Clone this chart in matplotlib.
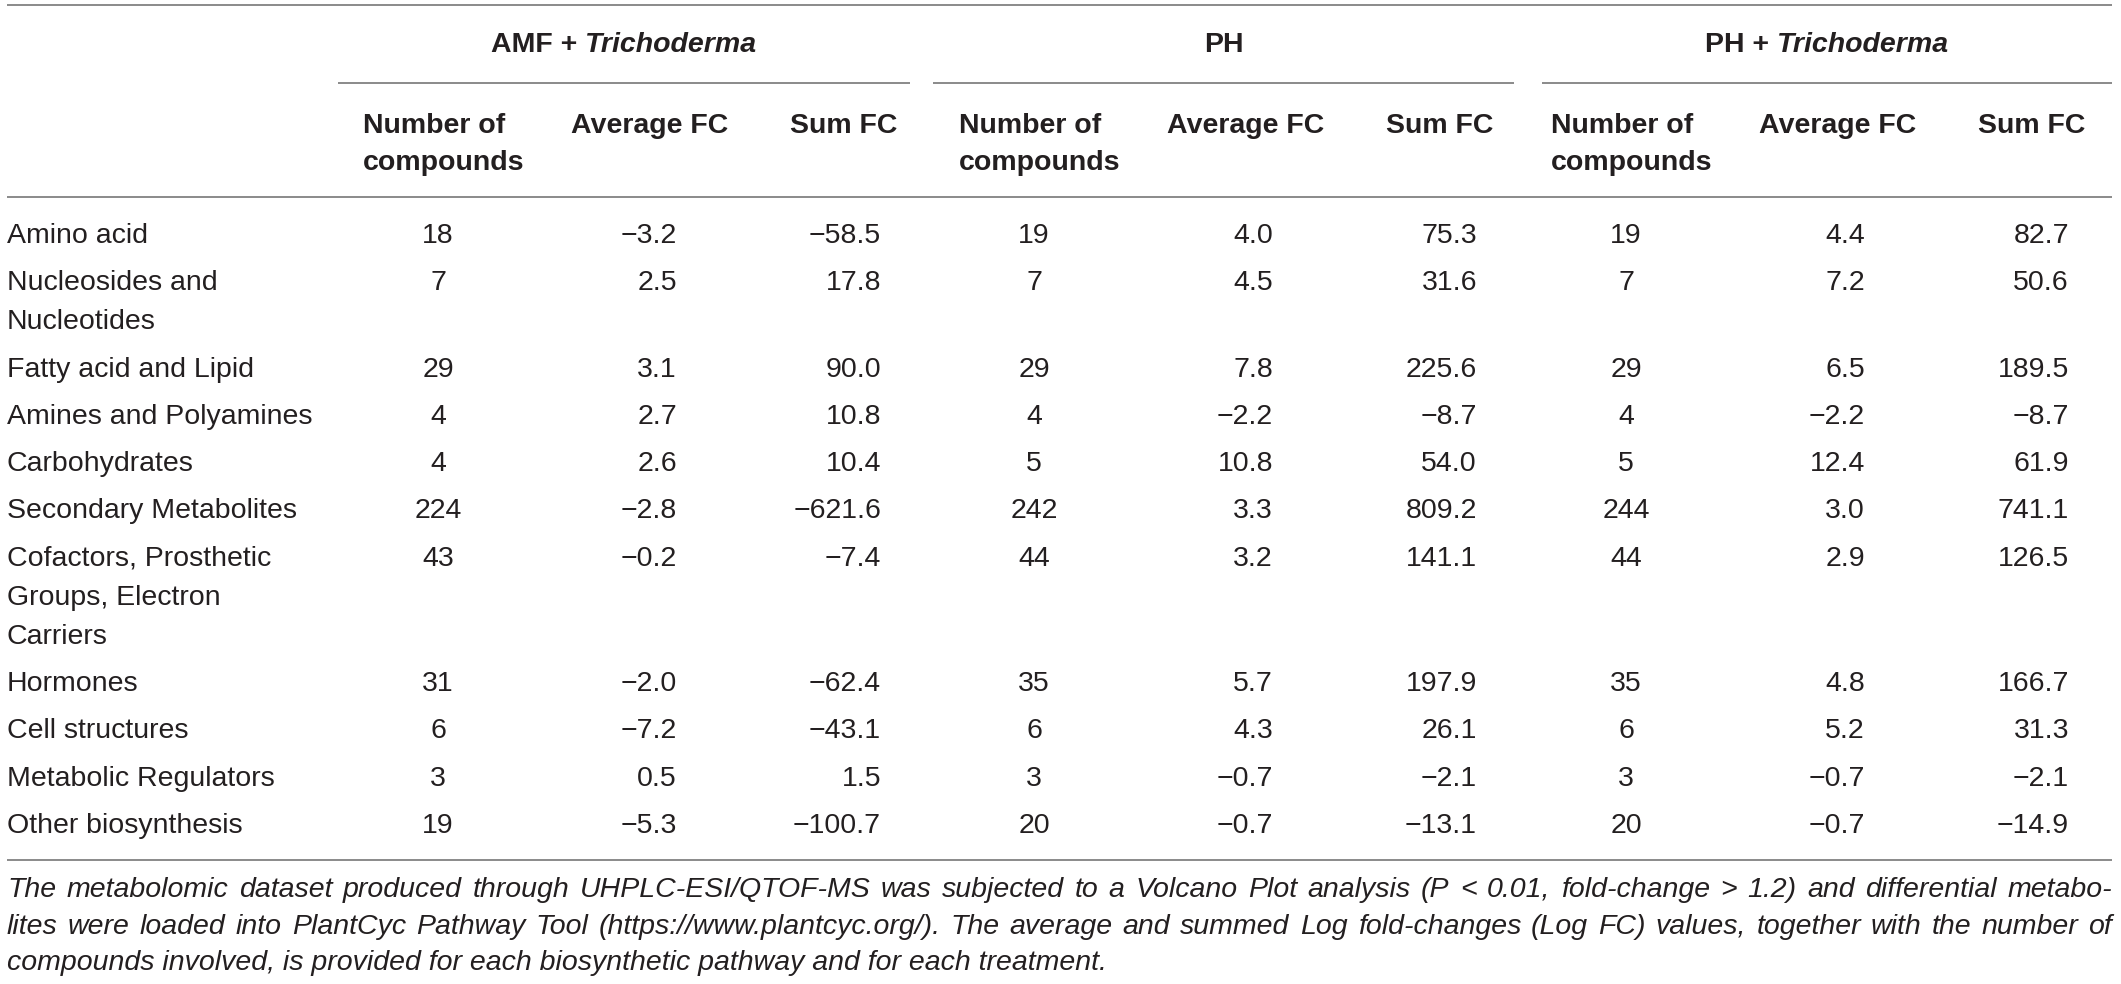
import matplotlib
matplotlib.use("Agg")
import matplotlib.pyplot as plt

# ---------------- data ----------------
categories = [
    "Amino acid",
    "Nucleosides and\nNucleotides",
    "Fatty acid and Lipid",
    "Amines and Polyamines",
    "Carbohydrates",
    "Secondary Metabolites",
    "Cofactors, Prosthetic\nGroups, Electron\nCarriers",
    "Hormones",
    "Cell structures",
    "Metabolic Regulators",
    "Other biosynthesis",
]
amf_n = [18, 7, 29, 4, 4, 224, 43, 31, 6, 3, 19]
amf_avg = [-3.2, 2.5, 3.1, 2.7, 2.6, -2.8, -0.2, -2.0, -7.2, 0.5, -5.3]
amf_sum = [-58.5, 17.8, 90.0, 10.8, 10.4, -621.6, -7.4, -62.4, -43.1, 1.5, -100.7]
ph_n = [19, 7, 29, 4, 5, 242, 44, 35, 6, 3, 20]
ph_avg = [4.0, 4.5, 7.8, -2.2, 10.8, 3.3, 3.2, 5.7, 4.3, -0.7, -0.7]
ph_sum = [75.3, 31.6, 225.6, -8.7, 54.0, 809.2, 141.1, 197.9, 26.1, -2.1, -13.1]
pht_n = [19, 7, 29, 4, 5, 244, 44, 35, 6, 3, 20]
pht_avg = [4.4, 7.2, 6.5, -2.2, 12.4, 3.0, 2.9, 4.8, 5.2, -0.7, -0.7]
pht_sum = [82.7, 50.6, 189.5, -8.7, 61.9, 741.1, 126.5, 166.7, 31.3, -2.1, -14.9]

group_prefix = ["AMF + ", "PH", "PH + "]
group_italic = ["Trichoderma", "", "Trichoderma"]
sub_headers = ["Number of\ncompounds", "Average FC", "Sum FC"]
footnote_lines = [
    "The metabolomic dataset produced through UHPLC-ESI/QTOF-MS was subjected to a Volcano Plot analysis (P < 0.01, fold-change > 1.2) and differential metabo-",
    "lites were loaded into PlantCyc Pathway Tool (https://www.plantcyc.org/). The average and summed Log fold-changes (Log FC) values, together with the number of",
    "compounds involved, is provided for each biosynthetic pathway and for each treatment.",
]

groups_data = [
    (amf_n, amf_avg, amf_sum),
    (ph_n, ph_avg, ph_sum),
    (pht_n, pht_avg, pht_sum),
]

# ---------------- layout ----------------
W, H = 2121, 984
FONT = "Liberation Sans"
TXT = "#231f20"
LINE = "#8a8a8a"
FS = 20.5

fig = plt.figure(figsize=(W / 100, H / 100), dpi=100)
ax = fig.add_axes([0, 0, 1, 1])
ax.set_xlim(0, W)
ax.set_ylim(H, 0)
ax.axis("off")
renderer = fig.canvas.get_renderer()

X0, X1 = 7, 2112
group_left = [363, 959, 1551]
group_lines = [(338, 910), (933, 1514), (1542, 2112)]

def hline(y, xa, xb):
    ax.plot([xa, xb], [y, y], color=LINE, lw=1.4, solid_capstyle="butt")

def fmt(v):
    return f"{v:.1f}".replace("-", "\u2212")

# rules
hline(5, X0, X1)
hline(197, X0, X1)
hline(860, X0, X1)
for xa, xb in group_lines:
    hline(83, xa, xb)

# group titles
for pre, ital, (xa, xb) in zip(group_prefix, group_italic, group_lines):
    t1 = ax.text(0, 52, pre, fontsize=FS, fontweight="bold", family=FONT,
                 color=TXT, va="baseline", ha="left")
    w1 = t1.get_window_extent(renderer).width
    w2 = 0
    t2 = None
    if ital:
        t2 = ax.text(0, 52, ital, fontsize=FS, fontweight="bold", style="italic",
                     family=FONT, color=TXT, va="baseline", ha="left")
        w2 = t2.get_window_extent(renderer).width
    cx = (xa + xb) / 2
    start = cx - (w1 + w2) / 2
    t1.set_x(start)
    if t2 is not None:
        t2.set_x(start + w1)

# sub headers
sub_offsets = [0, 208, 427]
for g in group_left:
    for off, h in zip(sub_offsets, sub_headers):
        for k, line in enumerate(h.split("\n")):
            ax.text(g + off, 133 + k * 37, line, fontsize=FS, fontweight="bold",
                    family=FONT, color=TXT, va="baseline", ha="left")

# body rows
y = 243
ROW_GAP = 47.3
LINE_GAP = 39
for i, cat in enumerate(categories):
    lines = cat.split("\n")
    for k, line in enumerate(lines):
        ax.text(X0, y + k * LINE_GAP, line, fontsize=FS, family=FONT, color=TXT,
                va="baseline", ha="left")
    for g, (ns, avgs, sums) in zip(group_left, groups_data):
        ax.text(g + 75, y, str(ns[i]), fontsize=FS, family=FONT, color=TXT,
                va="baseline", ha="center")
        ax.text(g + 314, y, fmt(avgs[i]), fontsize=FS, family=FONT, color=TXT,
                va="baseline", ha="right")
        ax.text(g + 518, y, fmt(sums[i]), fontsize=FS, family=FONT, color=TXT,
                va="baseline", ha="right")
    y += (len(lines) - 1) * LINE_GAP + ROW_GAP

# footnote (justified)
foot_y = [897, 933.5, 970]
for li, (line, fy) in enumerate(zip(footnote_lines, foot_y)):
    if li < len(footnote_lines) - 1:
        words = line.split(" ")
        texts = [ax.text(0, fy, w, fontsize=FS, style="italic", family=FONT,
                         color=TXT, va="baseline", ha="left") for w in words]
        widths = [t.get_window_extent(renderer).width for t in texts]
        gap = (X1 - X0 - sum(widths)) / (len(words) - 1)
        x = X0
        for t, w in zip(texts, widths):
            t.set_x(x)
            x += w + gap
    else:
        ax.text(X0, fy, line, fontsize=FS, style="italic", family=FONT,
                color=TXT, va="baseline", ha="left")

fig.savefig("out.png", dpi=100, facecolor="white")
